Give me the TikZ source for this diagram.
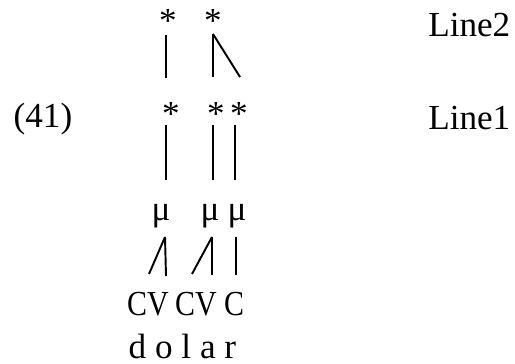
\documentclass[tikz,border=0pt]{standalone}
\usepackage{fontspec}
\setmainfont{Liberation Serif}
\usepackage{graphicx}
\usepackage{tikz}
\usetikzlibrary{positioning}

\begin{document}
\begin{tikzpicture}[
  x=0.01cm, y=-0.01cm,
  txt/.style={inner sep=0pt, anchor=base, font=\fontsize{10}{12}\selectfont},
  lbl/.style={txt, anchor=base west},
  tier/.style={txt, anchor=base east},
  assoc/.style={line width=0.55pt},
]
\useasboundingbox (0,0) rectangle (515,364);

% Line 2
\node[txt] (twoA) at (168,33) {*};
\node[txt] (twoB) at (213,33) {*};
\node[tier] (lineTwo) at (511,37) {Line2};
\coordinate (twoAtop) at (166,35);
\coordinate (twoAbot) at (166,78);
\coordinate (twoBtop) at (213,34);
\coordinate (twoBbot) at (213,77);
\coordinate (twoBslant) at (240,77);
\draw[assoc] (twoAtop) -- (twoAbot);
\draw[assoc] (twoBtop) -- (twoBbot);
\draw[assoc] (twoBtop) -- (twoBslant);

% Line 1
\node[lbl] (exnum) at (13,128) {(41)};
\node[txt] (oneA) at (171,126) {*};
\node[txt] (oneB) at (216,126) {*};
\node[txt] (oneC) at (239,126) {*};
\node[tier] (lineOne) at (511,130) {Line1};
\coordinate (oneAtop) at (166,125);
\coordinate (oneAbot) at (166,180);
\coordinate (oneBtop) at (213,125);
\coordinate (oneBbot) at (213,180);
\coordinate (oneCtop) at (235,125);
\coordinate (oneCbot) at (235,180);
\draw[assoc] (oneAtop) -- (oneAbot);
\draw[assoc] (oneBtop) -- (oneBbot);
\draw[assoc] (oneCtop) -- (oneCbot);

% moras
\node[txt] (muA) at (161,221) {μ};
\node[txt] (muB) at (210,221) {μ};
\node[txt] (muC) at (237,221) {μ};
\coordinate (muAfoot) at (165,237);
\coordinate (muBfoot) at (212,237);
\coordinate (muCfoot) at (236,237);

% segments
\node[txt] (cvA) at (148,316) {\scalebox{0.85}[1]{CV}};
\node[txt] (cvB) at (196,316) {\scalebox{0.85}[1]{CV}};
\node[txt] (cC) at (234,316) {\scalebox{0.85}[1]{C}};
\coordinate (cvAc) at (149,274);
\coordinate (cvAv) at (166,276);
\coordinate (cvBc) at (192,274);
\coordinate (cvBv) at (212,275);
\coordinate (cCc) at (236,275);
\draw[assoc] (muAfoot) -- (cvAc);
\draw[assoc] (muAfoot) -- (cvAv);
\draw[assoc] (muBfoot) -- (cvBc);
\draw[assoc] (muBfoot) -- (cvBv);
\draw[assoc] (muCfoot) -- (cCc);

\node[lbl] (word) at (128,359) {d o l a r};

\end{tikzpicture}
\end{document}
